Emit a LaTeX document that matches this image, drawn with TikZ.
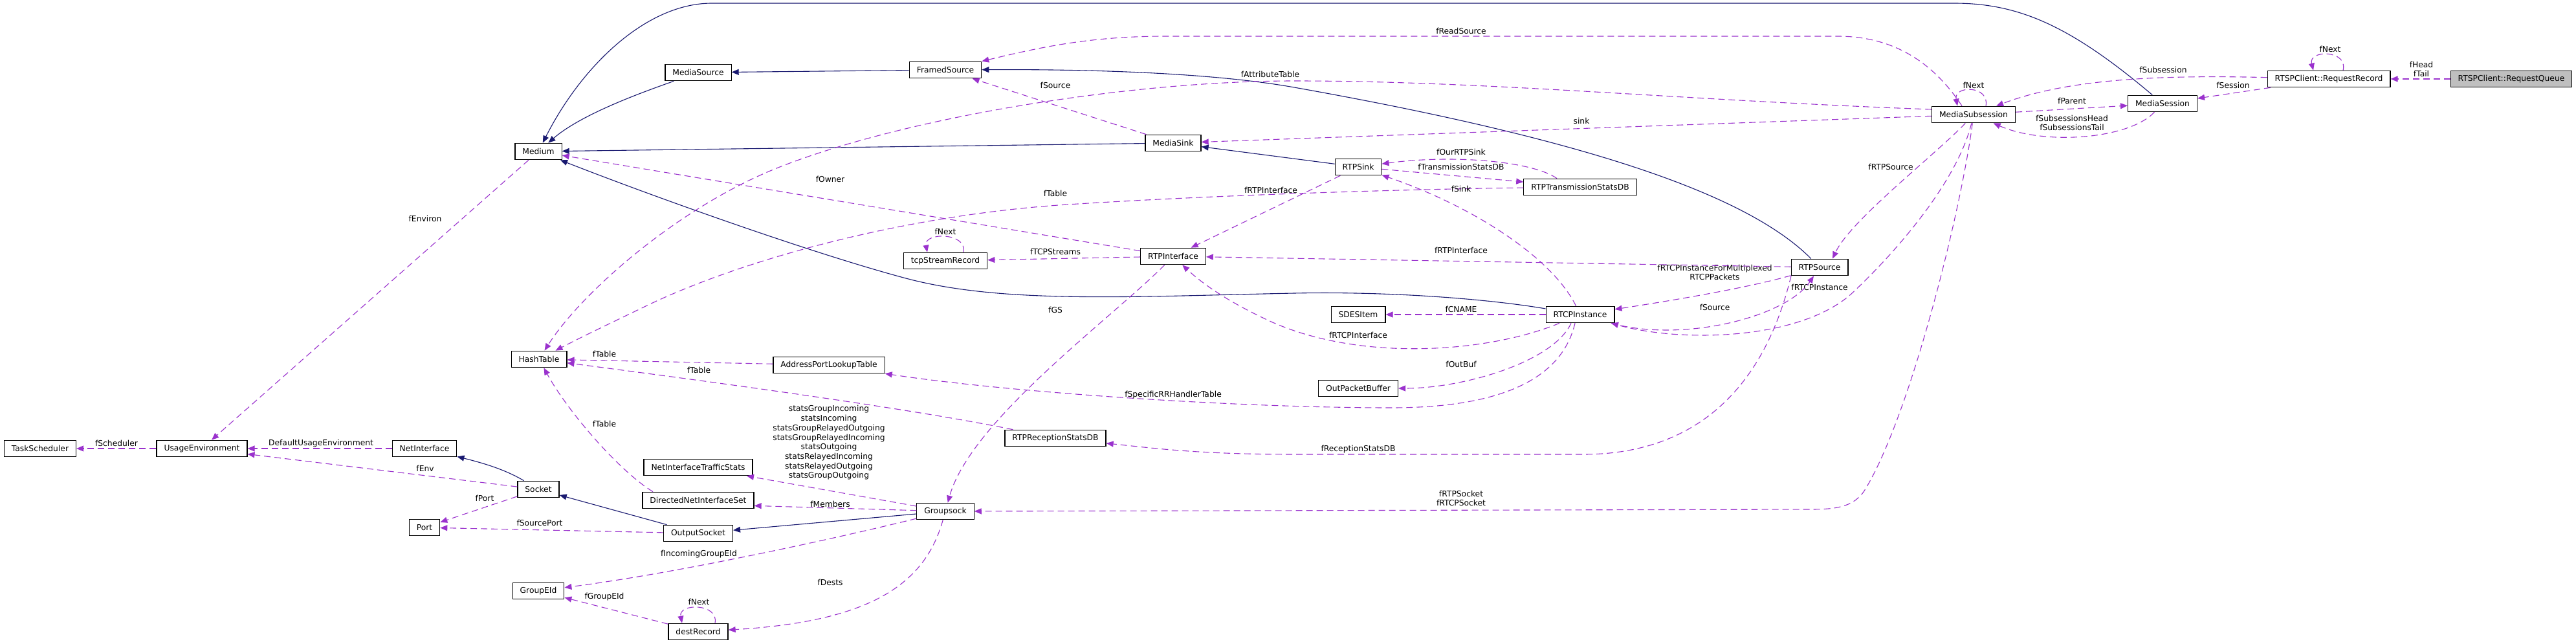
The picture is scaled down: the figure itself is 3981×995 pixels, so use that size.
\documentclass[tikz,border=0pt]{standalone}
\usepackage{fontspec}
\setmainfont{DejaVu Sans}
\usetikzlibrary{arrows.meta}
\definecolor{inhblue}{RGB}{25,25,112}
\definecolor{usepurple}{RGB}{154,50,205}
\definecolor{rootgray}{RGB}{191,191,191}
\tikzset{
  font=\fontsize{6.15}{7.35}\selectfont,
  cls/.style ={draw, line width=0.6pt, fill=white, minimum height=12.75pt, inner xsep=5.75pt, inner ysep=1pt},
  root/.style={cls, fill=rootgray},
  inh/.style ={draw=inhblue, line width=0.55pt, -{Triangle[length=5.5pt,width=4.5pt]}},
  use/.style ={draw=usepurple, line width=0.55pt, dash pattern=on 5pt off 3pt, -{Triangle[length=5.5pt,width=4.5pt]}},
  lbl/.style ={align=center, inner sep=0pt},
}

\begin{document}
\begin{tikzpicture}[x=0.5pt,y=-0.5pt]
  \useasboundingbox (0,0) rectangle (3981,995);
  \node[cls] (medium) at (832,234) {Medium};
  \node[cls] (msrc) at (1079,112) {MediaSource};
  \node[cls] (fsrc) at (1461,108) {FramedSource};
  \node[cls] (msink) at (1813,221) {MediaSink};
  \node[cls] (tcprec) at (1461,403) {tcpStreamRecord};
  \node[cls] (rtpif) at (1813,396) {RTPInterface};
  \node[cls] (rtpsink) at (2099,258) {RTPSink};
  \node[cls] (rtpts) at (2442,289) {RTPTransmissionStatsDB};
  \node[cls] (rtpsrc) at (2812,413) {RTPSource};
  \node[cls] (sdes) at (2099,486) {SDESItem};
  \node[cls] (rtcp) at (2442,486) {RTCPInstance};
  \node[cls] (outbuf) at (2099,600) {OutPacketBuffer};
  \node[cls] (msub) at (3050,177) {MediaSubsession};
  \node[cls] (mses) at (3342,160) {MediaSession};
  \node[cls] (rrec) at (3599,122) {RTSPClient::RequestRecord};
  \node[root] (rqueue) at (3881,122) {RTSPClient::RequestQueue};
  \node[cls] (tasks) at (62,693) {TaskScheduler};
  \node[cls] (usenv) at (312,693) {UsageEnvironment};
  \node[cls] (netif) at (656,693) {NetInterface};
  \node[cls] (hashtab) at (833,555) {HashTable};
  \node[cls] (sock) at (832,756) {Socket};
  \node[cls] (port) at (656,815) {Port};
  \node[cls] (geid) at (832,913) {GroupEId};
  \node[cls] (addrlut) at (1281,564) {AddressPortLookupTable};
  \node[cls] (rtprs) at (1631,677) {RTPReceptionStatsDB};
  \node[cls] (nits) at (1079,722) {NetInterfaceTrafficStats};
  \node[cls] (dnis) at (1079,773) {DirectedNetInterfaceSet};
  \node[cls] (outsock) at (1079,824) {OutputSocket};
  \node[cls] (gsock) at (1461,790) {Groupsock};
  \node[cls] (destrec) at (1079,976) {destRecord};

  \draw[inh] (msrc) .. controls (1000,140) and (900,175) .. (medium);
  \draw[inh] (fsrc) -- (msrc);
  \draw[inh] (msink) -- (medium);
  \draw[inh] (rtpsink) -- (msink);
  \draw[inh] (mses) .. controls (3200,40) and (3120,5) .. (3020,5) -- (1100,5) .. controls (1000,5) and (900,100) .. (medium);
  \draw[inh] (rtpsrc) .. controls (2700,300) and (2450,215) .. (2000,135) .. controls (1860,110) and (1650,107) .. (fsrc);
  \draw[inh] (rtcp) .. controls (2300,462) and (2150,450) .. (2000,453) .. controls (1750,458) and (1550,470) .. (1400,430) .. controls (1250,390) and (1000,300) .. (medium);
  \draw[inh] (sock) .. controls (780,725) and (745,715) .. (netif);
  \draw[inh] (outsock) -- (sock);
  \draw[inh] (gsock) -- (outsock);

  \draw[use] (rqueue) -- (rrec) node[lbl] at (3742,107) {fHead\\fTail};
  \draw[use] ([xshift=11pt]rrec.north) .. controls +(8,-32) and +(-8,-32) .. ([xshift=-12pt]rrec.north) node[lbl] at (3601,76) {fNext};
  \draw[use] (rrec) .. controls (3350,116) and (3200,120) .. (msub) node[lbl] at (3343,108) {fSubsession};
  \draw[use] (rrec) -- (mses) node[lbl] at (3451,132) {fSession};
  \draw[use] (msub) -- (mses) node[lbl] at (3202,156) {fParent};
  \draw[use] (mses) .. controls (3290,215) and (3160,225) .. (msub) node[lbl] at (3202,190) {fSubsessionsHead\\fSubsessionsTail};
  \draw[use] ([xshift=9.5pt]msub.north) .. controls +(6,-32) and +(-6,-32) .. ([xshift=-12.5pt]msub.north) node[lbl] at (3050,132) {fNext};
  \draw[use] ([xshift=-9pt]msub.north) .. controls (2990,100) and (2930,56) .. (2840,56) -- (1800,56) .. controls (1680,56) and (1600,75) .. (fsrc) node[lbl] at (2258,48) {fReadSource};
  \draw[use] ([yshift=4pt]msub.west) .. controls (2600,155) and (2300,125) .. (2000,125) .. controls (1750,125) and (1400,180) .. (1200,260) .. controls (1050,320) and (900,450) .. (hashtab) node[lbl] at (1963,115) {fAttributeTable};
  \draw[use] (rtpts) .. controls (2200,292) and (1900,300) .. (1650,316) .. controls (1400,332) and (1150,400) .. (1000,472) .. controls (940,501) and (900,520) .. (hashtab) node[lbl] at (1631,299) {fTable};
  \draw[use] (msub) -- (msink) node[lbl] at (2444,187) {sink};
  \draw[use] (msub) .. controls (2990,240) and (2860,340) .. ([xshift=10pt]rtpsrc.north) node[lbl] at (2922,258) {fRTPSource};
  \draw[use] (msub) .. controls (3025,280) and (2930,390) .. (2860,455) .. controls (2780,525) and (2600,530) .. (rtcp) node[lbl] at (2812,444) {fRTCPInstance};
  \draw[use] (rtpsrc) .. controls (2700,445) and (2580,465) .. (rtcp) node[lbl] at (2650,421) {fRTCPInstanceForMultiplexed\\RTCPPackets};
  \draw[use] (rtcp) .. controls (2600,530) and (2760,490) .. (rtpsrc) node[lbl] at (2650,475) {fSource};
  \draw[use] ([xshift=-18pt]rtpts.north) .. controls (2370,250) and (2250,238) .. (rtpsink) node[lbl] at (2258,235) {fOurRTPSink};
  \draw[use] (rtpsink) -- (rtpts) node[lbl] at (2258,258) {fTransmissionStatsDB};
  \draw[use] (rtcp) .. controls (2400,400) and (2280,320) .. (rtpsink) node[lbl] at (2258,292) {fSink};
  \draw[use] (rtpsink) -- (rtpif) node[lbl] at (1964,294) {fRTPInterface};
  \draw[use] (rtpsrc) -- (rtpif) node[lbl] at (2258,387) {fRTPInterface};
  \draw[use] (msink) -- (fsrc) node[lbl] at (1631,132) {fSource};
  \draw[use] (rtpif) -- (medium) node[lbl] at (1283,277) {fOwner};
  \draw[use] (rtpif) -- (tcprec) node[lbl] at (1631,389) {fTCPStreams};
  \draw[use] ([xshift=14pt]tcprec.north) .. controls +(6,-31) and +(-6,-31) .. ([xshift=-14pt]tcprec.north) node[lbl] at (1461,358) {fNext};
  \draw[use] (rtpif) .. controls (1720,490) and (1500,650) .. (gsock) node[lbl] at (1631,479) {fGS};
  \draw[use] (rtcp) -- (sdes) node[lbl] at (2258,478) {fCNAME};
  \draw[use] (rtcp) .. controls (2300,545) and (2100,560) .. (1960,495) .. controls (1900,467) and (1860,440) .. (rtpif) node[lbl] at (2099,518) {fRTCPInterface};
  \draw[use] ([xshift=-7pt]rtcp.south) .. controls (2400,560) and (2260,600) .. (outbuf) node[lbl] at (2258,563) {fOutBuf};
  \draw[use] ([xshift=-4pt]rtcp.south) .. controls (2415,580) and (2330,630) .. (2150,630) .. controls (1900,630) and (1550,605) .. (addrlut) node[lbl] at (1813,610) {fSpecificRRHandlerTable};
  \draw[use] ([xshift=-22pt]rtpsrc.south) .. controls (2745,520) and (2680,700) .. (2450,702) -- (2000,702) .. controls (1850,702) and (1780,692) .. (rtprs) node[lbl] at (2099,694) {fReceptionStatsDB};
  \draw[use] (msub) .. controls (3030,330) and (2950,650) .. (2880,760) .. controls (2865,780) and (2845,787) .. (2800,787) -- (gsock) node[lbl] at (2258,770) {fRTPSocket\\fRTCPSocket};
  \draw[use] (rtprs) .. controls (1400,630) and (1100,590) .. (hashtab) node[lbl] at (1080,572) {fTable};
  \draw[use] (addrlut) -- (hashtab) node[lbl] at (934,547) {fTable};
  \draw[use] ([xshift=-35pt]dnis.north) .. controls (960,730) and (880,640) .. (hashtab) node[lbl] at (934,655) {fTable};
  \draw[use] (medium) -- (usenv) node[lbl] at (657,338) {fEnviron};
  \draw[use] (usenv) -- (tasks) node[lbl] at (180,685) {fScheduler};
  \draw[use] (netif) -- (usenv) node[lbl] at (496,685) {DefaultUsageEnvironment};
  \draw[use] (sock) -- (usenv) node[lbl] at (657,724) {fEnv};
  \draw[use] (sock) -- (port) node[lbl] at (749,770) {fPort};
  \draw[use] (outsock) -- (port) node[lbl] at (834,808) {fSourcePort};
  \draw[use] (gsock) .. controls (1300,830) and (1050,885) .. (geid) node[lbl] at (1080,856) {fIncomingGroupEId};
  \draw[use] (destrec) -- (geid) node[lbl] at (934,922) {fGroupEId};
  \draw[use] ([xshift=13pt]destrec.north) .. controls +(6,-31) and +(-6,-31) .. ([xshift=-12.5pt]destrec.north) node[lbl] at (1080,930) {fNext};
  \draw[use] (gsock) .. controls (1430,900) and (1350,960) .. (destrec) node[lbl] at (1283,900) {fDests};
  \draw[use] (gsock) -- ([yshift=2.5pt]dnis.south east) node[lbl] at (1283,779) {fMembers};
  \draw[use] (gsock) -- (nits) node[lbl] at (1281,684) {statsGroupIncoming\\statsIncoming\\statsGroupRelayedOutgoing\\statsGroupRelayedIncoming\\statsOutgoing\\statsRelayedIncoming\\statsRelayedOutgoing\\statsGroupOutgoing};
\end{tikzpicture}
\end{document}
